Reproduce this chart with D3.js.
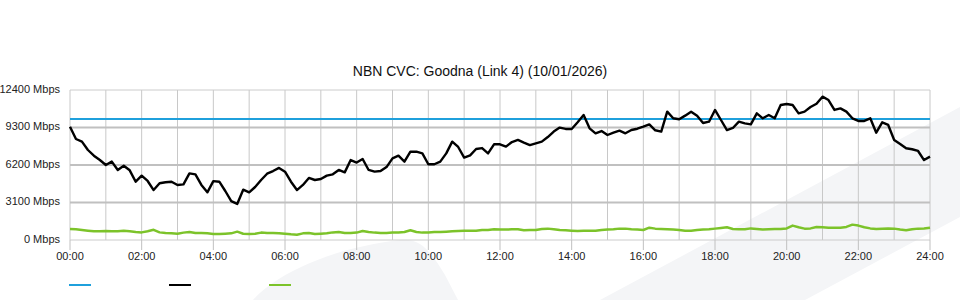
<!DOCTYPE html>
<html>
<head>
<meta charset="utf-8">
<script src="https://cdn.jsdelivr.net/npm/d3@7"></script>
<style>
  body { margin: 0; background: #fff; }
  svg { display: block; font-family: "Liberation Sans", Arial, sans-serif; }
</style>
</head>
<body>
<div id="chart"></div>
<script>
// NBN CVC graph, one sample every 10 minutes from 00:00 to 24:00
const title = "NBN CVC: Goodna (Link 4) (10/01/2026)";
const stepMinutes = 10;

const capacity = 10000; // Mbps, flat line

const download = [
  9370, 8350, 8130, 7440, 6970, 6610, 6200, 6480, 5790, 6140, 5760, 4820, 5320, 4880, 4130, 4690, 4770, 4820, 4550, 4600, 5510, 5430, 4550, 3940, 4870,
  4820, 4050, 3220, 2980, 4160, 3940, 4380, 4960, 5480, 5700, 5960, 5650, 4820, 4130, 4550, 5130, 4960, 5040, 5320, 5430, 5790, 5590, 6610, 6400,
  6700, 5790, 5650, 5700, 6030, 6750, 6970, 6480, 7300, 7300, 7160, 6260, 6260, 6480, 7160, 8130, 7690, 6810, 7000, 7520, 7600, 7160, 7910, 7910,
  7720, 8100, 8270, 8050, 7850, 7990, 8130, 8510, 8960, 9290, 9180, 9180, 9730, 10330, 9230, 8820, 9010, 8680, 8870, 9040, 8820, 9090, 9200, 9370,
  9560, 9070, 8960, 10610, 10060, 9980, 10280, 10610, 10280, 9670, 9780, 10750, 9920, 9090, 9260, 9780, 9640, 9560, 10470, 10060, 10330, 10060, 11160, 11240,
  11160, 10470, 10610, 10990, 11270, 11850, 11570, 10750, 10880, 10610, 10060, 9840, 9840, 10060, 8870, 9730, 9510, 8270, 7940, 7580, 7500, 7360, 6610, 6890
];

const upload = [
  910, 880, 830, 770, 720, 720, 740, 720, 720, 770, 720, 660, 630, 720, 840, 630, 580, 550, 520, 610, 660, 580, 580, 550, 500,
  500, 520, 550, 690, 520, 500, 520, 610, 580, 580, 550, 520, 470, 440, 550, 580, 500, 520, 550, 630, 660, 580, 580, 610,
  740, 660, 610, 580, 580, 610, 630, 660, 800, 660, 610, 630, 660, 660, 690, 720, 740, 770, 770, 770, 830, 830, 880, 860,
  860, 880, 880, 800, 830, 830, 910, 940, 880, 830, 800, 770, 740, 770, 770, 770, 830, 860, 880, 940, 940, 880, 860, 830,
  1020, 940, 910, 880, 860, 830, 770, 770, 830, 860, 880, 940, 990, 1050, 910, 880, 880, 960, 910, 860, 880, 910, 910, 960,
  1190, 1050, 940, 960, 1080, 1050, 1020, 1020, 1020, 1080, 1270, 1190, 1050, 960, 910, 940, 960, 940, 860, 800, 880, 940, 960, 1020
];

const yTicks = [0, 3100, 6200, 9300, 12400];
const xTickLabels = ["00:00", "02:00", "04:00", "06:00", "08:00", "10:00", "12:00",
  "14:00", "16:00", "18:00", "20:00", "22:00", "24:00"];

const colors = { capacity: "#1fa0dc", download: "#000000", upload: "#7cc32a" };

const width = 960, height = 300;
const margin = { top: 90, right: 30, bottom: 60, left: 70 };

const svg = d3.select("#chart").append("svg")
  .attr("width", width)
  .attr("height", height);

// faint background swooshes
svg.append("path")
  .attr("d", "M253,300 C275,275 330,248 400,240 C420,238 430,250 445,275 L458,300 Z")
  .attr("fill", "#f4f5f7");
svg.append("path")
  .attr("d", "M600,300 L960,107 L960,217 L805,300 Z")
  .attr("fill", "#f4f5f7");

const x = d3.scaleLinear()
  .domain([0, 1440])
  .range([margin.left, width - margin.right]);

const y = d3.scaleLinear()
  .domain([0, 12400])
  .range([height - margin.bottom, margin.top]);

// vertical grid, one per hour
const hours = d3.range(0, 25);
svg.append("g")
  .selectAll("line")
  .data(hours)
  .join("line")
  .attr("x1", h => x(h * 60))
  .attr("x2", h => x(h * 60))
  .attr("y1", y(12400))
  .attr("y2", y(0))
  .attr("stroke", "#c8c8c8")
  .attr("stroke-width", 1);

// horizontal grid
svg.append("g")
  .selectAll("line")
  .data(yTicks)
  .join("line")
  .attr("x1", x(0))
  .attr("x2", x(1440))
  .attr("y1", d => y(d))
  .attr("y2", d => y(d))
  .attr("stroke", d => (d === 0 || d === 12400) ? "#cccccc" : "#c0c0c0")
  .attr("stroke-width", d => (d === 0 || d === 12400) ? 1 : 2);

// y axis labels
svg.append("g")
  .selectAll("text")
  .data(yTicks)
  .join("text")
  .attr("x", x(0) - 10)
  .attr("y", d => y(d) - 1)
  .attr("dy", "0.35em")
  .attr("text-anchor", "end")
  .attr("font-size", 11)
  .attr("fill", "#222")
  .text(d => d + " Mbps");

// x axis ticks + labels
const xAxis = svg.append("g")
  .attr("transform", `translate(0,${y(0)})`);
xAxis.selectAll("line")
  .data(xTickLabels)
  .join("line")
  .attr("x1", (d, i) => x(i * 120))
  .attr("x2", (d, i) => x(i * 120))
  .attr("y1", 0)
  .attr("y2", 10)
  .attr("stroke", "#c0c0c0");
xAxis.selectAll("text")
  .data(xTickLabels)
  .join("text")
  .attr("x", (d, i) => x(i * 120))
  .attr("y", 20)
  .attr("text-anchor", "middle")
  .attr("font-size", 11)
  .attr("fill", "#222")
  .text(d => d);

// series
const line = d3.line()
  .x((d, i) => x(i * stepMinutes))
  .y(d => y(d));

svg.append("line")
  .attr("x1", x(0))
  .attr("x2", x(1440))
  .attr("y1", y(capacity))
  .attr("y2", y(capacity))
  .attr("stroke", colors.capacity)
  .attr("stroke-width", 2);

svg.append("path")
  .datum(upload)
  .attr("d", line)
  .attr("fill", "none")
  .attr("stroke", colors.upload)
  .attr("stroke-width", 2.5)
  .attr("stroke-linejoin", "round");

svg.append("path")
  .datum(download)
  .attr("d", line)
  .attr("fill", "none")
  .attr("stroke", colors.download)
  .attr("stroke-width", 2.4)
  .attr("stroke-linejoin", "round");

// title
svg.append("text")
  .attr("x", width / 2)
  .attr("y", 76)
  .attr("text-anchor", "middle")
  .attr("font-size", 14)
  .attr("fill", "#111")
  .text(title);

// legend swatches (labels are not shown in the original)
const legendItems = [colors.capacity, colors.download, colors.upload];
svg.append("g")
  .selectAll("line")
  .data(legendItems)
  .join("line")
  .attr("x1", (d, i) => 69 + i * 100)
  .attr("x2", (d, i) => 91 + i * 100)
  .attr("y1", 285)
  .attr("y2", 285)
  .attr("stroke", d => d)
  .attr("stroke-width", 2);
</script>
</body>
</html>
